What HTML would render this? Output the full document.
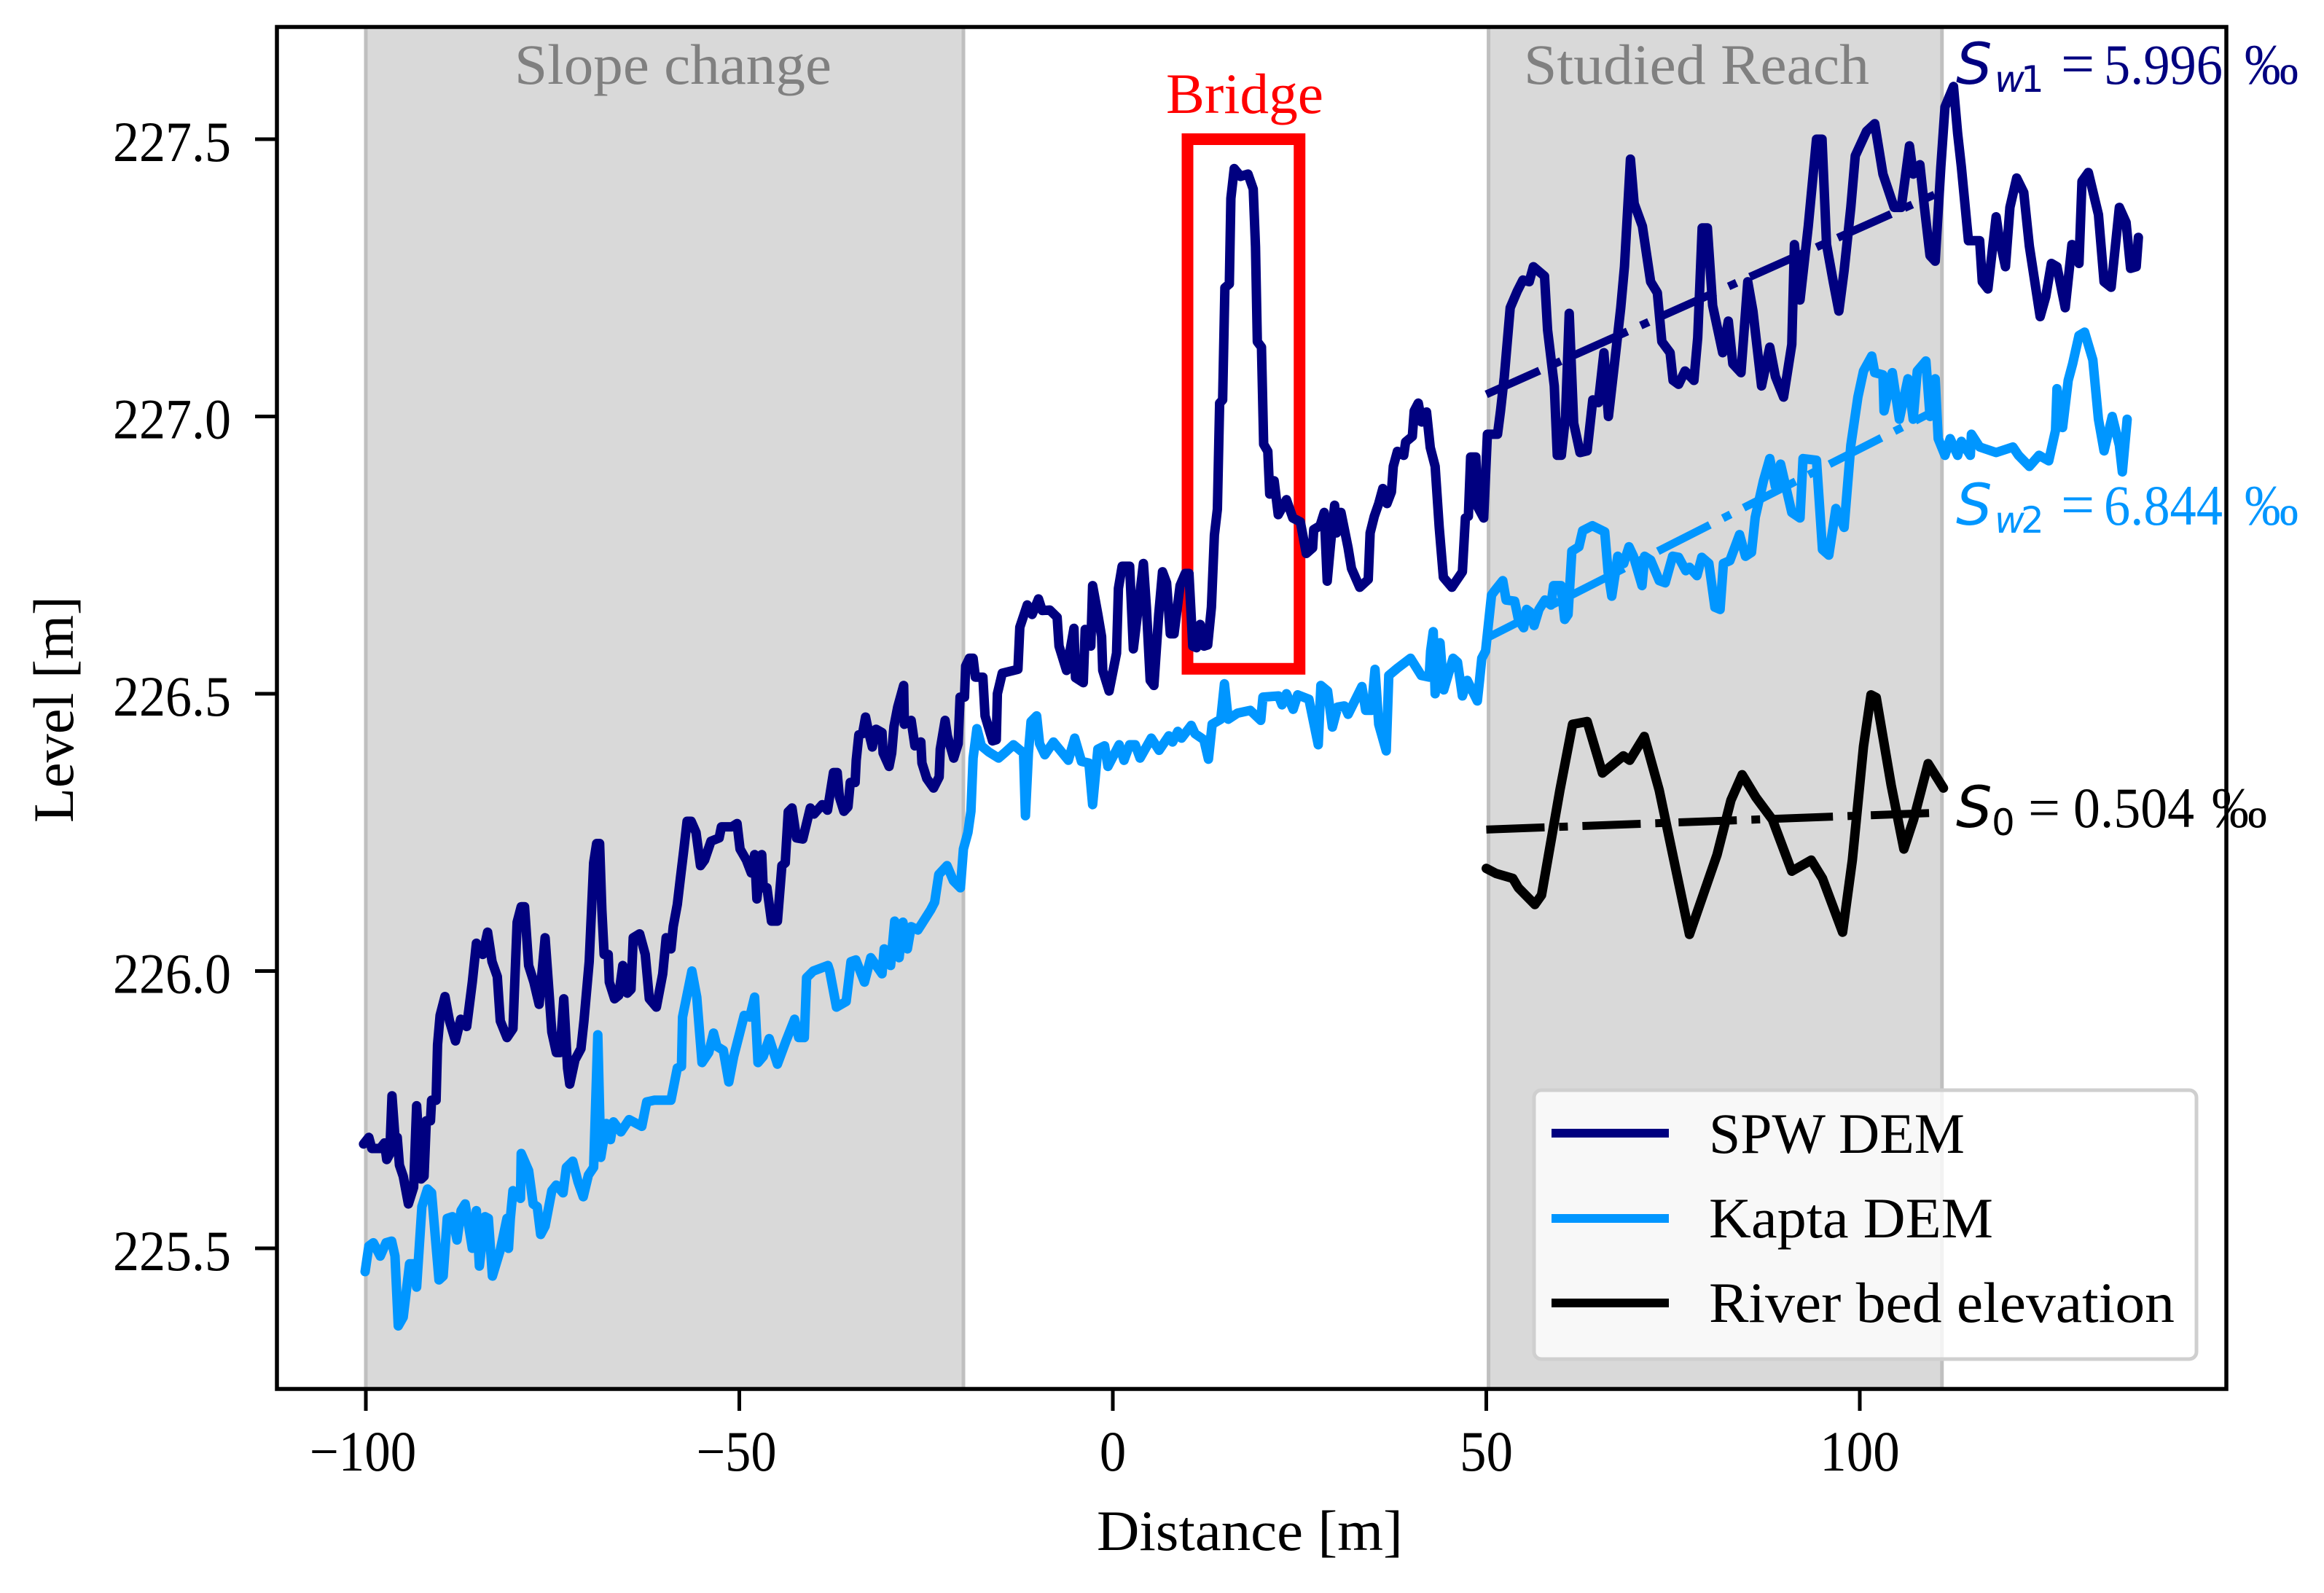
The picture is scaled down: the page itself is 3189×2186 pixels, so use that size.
<!DOCTYPE html>
<html lang="en">
<head>
<meta charset="utf-8">
<title>Longitudinal level profile</title>
<style>
html,body{margin:0;padding:0;background:#fff;width:3189px;height:2186px;overflow:hidden}
svg{display:block}
text{font-family:"Liberation Serif",serif}
.math{font-family:"DejaVu Sans",sans-serif;font-style:italic}
.mathr{font-family:"DejaVu Sans",sans-serif}
</style>
</head>
<body>
<svg id="chart" xmlns="http://www.w3.org/2000/svg" width="3189" height="2186" viewBox="0 0 3189 2186">
<rect x="0" y="0" width="3189" height="2186" fill="#fff"/>
<g id="spans"></g>
<g id="bridgeBox"></g>
<g id="series"></g>
<g>
<rect x="2105" y="1496" width="909" height="369" rx="10" ry="10" fill="#fff" fill-opacity="0.8" stroke="#cfcfcf" stroke-width="5"/>
<line x1="2129" x2="2290" y1="1555" y2="1555" stroke="#000080" stroke-width="12"/>
<line x1="2129" x2="2290" y1="1672" y2="1672" stroke="#0096ff" stroke-width="12"/>
<line x1="2129" x2="2290" y1="1788" y2="1788" stroke="#000" stroke-width="12"/>
<text x="2345" y="1582" font-size="78" textLength="351" lengthAdjust="spacingAndGlyphs">SPW DEM</text>
<text x="2345" y="1698" font-size="78" textLength="390" lengthAdjust="spacingAndGlyphs">Kapta DEM</text>
<text x="2345" y="1814" font-size="78" textLength="639" lengthAdjust="spacingAndGlyphs">River bed elevation</text>
</g>
<g id="ticks"></g>
<rect x="380" y="37" width="2675" height="1869" fill="none" stroke="#000" stroke-width="5.5"/>
<text x="1505" y="2127" font-size="78" textLength="420" lengthAdjust="spacingAndGlyphs">Distance [m]</text>
<text transform="translate(100,1129) rotate(-90)" x="0" y="0" font-size="78" textLength="311" lengthAdjust="spacingAndGlyphs">Level [m]</text>
<text x="706" y="115" font-size="78" fill="#808080" textLength="435" lengthAdjust="spacingAndGlyphs">Slope change</text>
<text x="2091" y="115" font-size="78" fill="#808080" textLength="474" lengthAdjust="spacingAndGlyphs">Studied Reach</text>
<text x="1600" y="155" font-size="78" fill="#ff0000" textLength="216" lengthAdjust="spacingAndGlyphs">Bridge</text>
<g fill="#000080">
<text class="math" x="2684" y="115" font-size="78">S</text>
<text class="math" x="2737" y="126" font-size="50">w</text>
<text class="mathr" x="2773" y="126" font-size="50">1</text>
<text x="2828" y="115" font-size="82">=</text>
<text x="2887" y="115" font-size="78" textLength="163" lengthAdjust="spacingAndGlyphs">5.996</text>
<text x="3080" y="115" font-size="78" textLength="74" lengthAdjust="spacingAndGlyphs">‰</text>
</g>
<g fill="#0096ff">
<text class="math" x="2684" y="720" font-size="78">S</text>
<text class="math" x="2737" y="731" font-size="50">w</text>
<text class="mathr" x="2773" y="731" font-size="50">2</text>
<text x="2828" y="720" font-size="82">=</text>
<text x="2887" y="720" font-size="78" textLength="163" lengthAdjust="spacingAndGlyphs">6.844</text>
<text x="3080" y="720" font-size="78" textLength="74" lengthAdjust="spacingAndGlyphs">‰</text>
</g>
<g fill="#000">
<text class="math" x="2684" y="1135" font-size="78">S</text>
<text class="mathr" x="2733" y="1146" font-size="50">0</text>
<text x="2783" y="1135" font-size="78">=</text>
<text x="2845" y="1135" font-size="78" textLength="166" lengthAdjust="spacingAndGlyphs">0.504</text>
<text x="3035" y="1135" font-size="78" textLength="76" lengthAdjust="spacingAndGlyphs">‰</text>
</g>
</svg>
<script>
const xTicks = [-100, -50, 0, 50, 100];
const yTicks = [225.5, 226.0, 226.5, 227.0, 227.5];
const slopeChangeRange = [-100, -20];
const studiedReachRange = [50.3, 111];
const bridgeDistanceRange = [10, 25];
const bridgeLevelRange = [226.545, 227.5];

const spwDistance = [-100.3,-99.6,-99.2,-98.07,-97.5,-97.2,-96.8,-96.5,-96.1,-95.8,-95.5,-95,-94.3,-93.6,-93.2,-92.6,-92.2,-91.9,-91.35,-91.2,-90.6,-90.4,-90.06,-89.4,-88.8,-88,-87.3,-86.5,-85.75,-85.2,-84.35,-83.7,-83.1,-82.4,-82,-81.1,-80.3,-79.75,-79.2,-78.75,-78.2,-77.5,-76.8,-76,-75.5,-75.1,-74.5,-74,-73.5,-73,-72.7,-72,-71.2,-70.8,-70.1,-69.5,-69.1,-68.7,-68.4,-68.1,-67.55,-67.4,-66.7,-66.15,-65.6,-65,-64.5,-64.2,-63.35,-62.6,-62.05,-61.1,-60.25,-59.8,-59.15,-58.85,-58.3,-57.9,-57.45,-57,-56.45,-55.8,-55.2,-54.65,-53.8,-52.7,-52.4,-51,-50.3,-49.9,-49.05,-48.4,-47.95,-47.65,-47,-46.8,-46.3,-45.7,-44.9,-44.3,-43.85,-43.45,-42.95,-42.35,-41.5,-40.5,-40,-38.9,-38.2,-37.4,-36.9,-36.6,-36,-35.45,-35.15,-34.5,-34.35,-34,-33.5,-33.1,-32.7,-32.2,-31.7,-30.9,-30.75,-29.95,-29.6,-29.3,-28.8,-28,-27.9,-27,-26.5,-25.7,-25.55,-24.9,-24,-23.25,-23.1,-22.45,-22.15,-21.3,-20.7,-20.45,-19.85,-19.7,-19.2,-18.7,-18.4,-17.4,-17.1,-16.1,-15.6,-15.45,-14.8,-12.7,-12.45,-11.45,-10.8,-9.95,-9.45,-8.45,-7.45,-7.2,-6.2,-5.2,-5,-3.95,-3.7,-2.95,-2.7,-2,-1.5,-1.35,-0.5,0.5,0.75,1.25,2.25,2.75,4.1,4.5,5,5.5,6.15,6.65,7.2,7.7,8.2,9,9.7,10.2,10.7,11.2,11.7,12.2,12.7,13.2,13.6,14,14.3,14.7,15,15.6,15.8,16.25,17.1,18.1,18.8,19.1,19.35,19.9,20.2,20.75,21,21.6,22.15,23.25,24.1,25.1,25.9,26.75,26.9,27.75,28.3,28.7,29.15,29.7,29.95,30.55,31.5,31.95,33.05,34.2,34.45,35,35.6,36.15,36.7,37.3,37.55,38.1,38.95,39.2,40.1,40.35,40.9,41.35,42,42.5,43.15,43.7,44.25,45.4,46.8,47.2,47.6,47.9,48.6,48.85,49.65,50.15,51.5,51.9,52.4,53.2,54.15,54.9,55.75,56.3,57.8,58.2,59.1,59.5,60.05,60.6,61.1,61.7,62.55,63.5,64.25,65,65.75,66.35,67.2,68,68.5,69.3,69.8,70.9,72,72.9,73.5,74.6,75,75.75,76.6,77.8,78.3,78.9,79.6,80.3,81.65,82.4,83,84.1,85,85.7,86.85,87.95,88.7,89.8,90.9,91.25,92,93.1,94.2,94.95,95.55,96.45,97.2,97.9,98.8,99.4,100.9,102,103.1,104.6,105.55,106.65,107.15,108.05,108.65,109.4,110.1,110.85,111.4,112.55,113.1,113.6,114.55,116.05,116.4,117.15,118.25,118.65,119.5,120.1,121,121.95,122.7,124.15,124.9,125.65,126.4,127.5,128.4,129.35,129.75,130.6,131.95,132.7,133.65,134.75,135.65,136.25,137,137.3];
const spwLevel = [225.688,225.7,225.68,225.68,225.69,225.66,225.67,225.775,225.7,225.7,225.65,225.63,225.58,225.61,225.757,225.625,225.63,225.73,225.73,225.767,225.767,225.867,225.92,225.954,225.91,225.874,225.913,225.9,225.98,226.05,226.03,226.07,226.017,225.99,225.91,225.88,225.896,226.088,226.116,226.116,226.01,225.98,225.94,226.06,225.967,225.89,225.853,225.853,225.95,225.825,225.796,225.84,225.86,225.91,226.017,226.195,226.23,226.23,226.11,226.03,226.03,225.98,225.95,225.956,226.01,225.96,225.967,226.06,226.067,226.03,225.95,225.935,225.995,226.06,226.04,226.08,226.12,226.166,226.216,226.27,226.27,226.25,226.19,226.2,226.234,226.24,226.26,226.26,226.266,226.22,226.2,226.177,226.21,226.13,226.21,226.15,226.15,226.09,226.09,226.19,226.195,226.287,226.294,226.24,226.238,226.294,226.283,226.3,226.29,226.358,226.358,226.314,226.288,226.296,226.34,226.34,226.38,226.426,226.428,226.458,226.432,226.404,226.436,226.43,226.393,226.369,226.393,226.441,226.476,226.515,226.445,226.452,226.406,226.413,226.375,226.347,226.33,226.35,226.4,226.452,226.424,226.384,226.41,226.494,226.494,226.55,226.564,226.564,226.53,226.53,226.46,226.415,226.417,226.5,226.537,226.544,226.62,226.66,226.643,226.671,226.65,226.651,226.638,226.586,226.542,226.618,226.529,226.52,226.616,226.586,226.695,226.643,226.603,226.542,226.505,226.573,226.69,226.73,226.73,226.581,226.735,226.656,226.524,226.515,226.643,226.72,226.7,226.608,226.608,226.695,226.717,226.717,226.586,226.583,226.625,226.586,226.588,226.656,226.786,226.833,227.024,227.03,227.232,227.239,227.393,227.447,227.433,227.437,227.41,227.306,227.135,227.125,226.95,226.937,226.86,226.884,226.823,226.85,226.817,226.81,226.753,226.763,226.796,226.803,226.827,226.703,226.77,226.84,226.79,226.827,226.763,226.726,226.692,226.706,226.79,226.82,226.843,226.87,226.843,226.864,226.91,226.937,226.93,226.954,226.964,227.01,227.024,226.99,227.008,226.944,226.91,226.8,226.71,226.692,226.72,226.817,226.82,226.927,226.927,226.837,226.817,226.968,226.968,227.01,227.07,227.196,227.226,227.246,227.243,227.27,227.253,227.156,227.055,226.93,226.93,227,227.186,226.988,226.935,226.938,227.03,227.025,227.115,227,227.1,227.196,227.27,227.464,227.384,227.343,227.243,227.223,227.135,227.115,227.065,227.058,227.082,227.065,227.142,227.34,227.34,227.2,227.115,227.172,227.095,227.079,227.243,227.19,227.055,227.125,227.072,227.035,227.13,227.31,227.21,227.343,227.5,227.5,227.31,227.243,227.19,227.263,227.377,227.47,227.514,227.528,227.437,227.377,227.377,227.488,227.437,227.454,227.377,227.29,227.28,227.45,227.558,227.595,227.51,227.45,227.317,227.317,227.243,227.23,227.36,227.323,227.27,227.377,227.43,227.404,227.307,227.18,227.216,227.276,227.27,227.196,227.31,227.276,227.424,227.44,227.364,227.243,227.233,227.377,227.35,227.267,227.27,227.323];

const kaptaDistance = [-100.1,-99.6,-99,-98.07,-97.3,-96.55,-96.1,-95.66,-95,-94.15,-93.6,-93.2,-92.5,-91.75,-91.2,-90.2,-89.65,-89.1,-88.4,-87.8,-87.25,-86.7,-85.75,-85.2,-84.8,-84.05,-83.6,-83.05,-82,-81.1,-80.9,-80.65,-80.3,-79.3,-79.2,-78.2,-77.6,-77.05,-76.6,-76,-75.1,-74.5,-73.6,-73.15,-72.3,-71.6,-70.9,-70.2,-69.5,-68.95,-68.55,-67.8,-67.25,-66.85,-65.85,-64.75,-63.05,-62.4,-61.4,-59.15,-58.3,-57.75,-57.6,-56.35,-55.7,-55,-54.1,-53.45,-53,-52.15,-51.4,-50.75,-49.35,-48.6,-47.95,-47.5,-46.8,-46,-44.9,-43.75,-42.6,-42.05,-41.3,-41,-40.1,-38.15,-37.9,-37,-35.7,-35.05,-34.4,-33.25,-32.4,-30.9,-30.6,-29.75,-29.2,-28.6,-28.1,-27.5,-27,-26.1,-24.4,-23.85,-23.3,-22.2,-21.35,-20.4,-20,-19.4,-19,-18.7,-18.2,-17.6,-16.6,-15.3,-14.35,-13.3,-11.95,-11.7,-11.3,-10.95,-10.2,-9.8,-9.1,-7.95,-5.95,-5.1,-4.2,-3.2,-2.7,-2,-1.1,-0.65,0.85,1.5,2.25,3,3.65,5.15,6.2,7.5,8,8.7,9.2,10.5,11,12.2,12.8,13.3,14.45,14.95,15.45,16.7,18.4,19.8,20.1,22.2,22.65,23.25,24.15,24.75,26.25,27.5,27.85,28.75,29.4,30.1,31,31.5,33.35,33.85,34.6,35.1,35.6,36.6,36.95,38.1,39.85,41.3,42.35,42.55,42.9,43.15,43.8,44.3,45.55,46.15,46.8,47.45,48.8,49.1,49.4,49.9,50.7,51.2,52.2,52.65,53.8,54.3,55,55.4,55.9,56.4,57.05,57.85,58.65,59,60,60.5,60.95,61.45,62.4,62.9,64.2,65.85,66.3,66.8,67.3,67.6,68.4,69.1,69.7,70.85,71.2,72,73.15,73.95,74.95,75.75,76.7,77.2,78.2,78.85,79.8,80.6,81.3,81.75,82.6,83.9,84.7,85.5,86,87.1,87.95,88.7,89.4,90.9,92,92.4,94.2,95,95.85,96.8,97.9,98.8,99.75,100.5,101.6,102,103.1,103.25,104.35,105.3,106.45,107.15,107.7,108.85,109.4,110.1,110.5,111.4,112.1,113.1,113.6,114.8,114.95,116.05,118.25,120.5,121.25,122.7,124,125.3,126.2,126.4,127.15,127.9,128.5,129.35,130.1,131.2,131.95,132.7,133.8,134.75,135.15,135.8];
const kaptaLevel = [225.458,225.504,225.51,225.486,225.51,225.513,225.486,225.36,225.376,225.472,225.472,225.43,225.575,225.607,225.6,225.443,225.45,225.554,225.557,225.515,225.568,225.58,225.5,225.568,225.468,225.557,225.554,225.45,225.497,225.554,225.5,225.554,225.604,225.59,225.671,225.64,225.58,225.575,225.525,225.54,225.604,225.614,225.6,225.646,225.657,225.62,225.593,225.632,225.646,225.885,225.664,225.725,225.696,225.728,225.71,225.732,225.72,225.764,225.767,225.767,225.825,225.828,225.917,226,225.953,225.835,225.853,225.888,225.864,225.857,225.8,225.846,225.92,225.917,225.953,225.835,225.846,225.878,225.832,225.874,225.913,225.88,225.88,225.988,226,226.01,226,225.935,225.945,226.017,226.02,225.98,226.024,225.995,226.04,226.01,226.09,226.024,226.088,226.04,226.08,226.074,226.11,226.124,226.174,226.19,226.163,226.15,226.22,226.25,226.288,226.384,226.437,226.406,226.395,226.384,226.395,226.408,226.393,226.28,226.393,226.45,226.46,226.41,226.39,226.413,226.38,226.42,226.378,226.375,226.3,226.4,226.406,226.369,226.408,226.38,226.408,226.408,226.384,226.42,226.398,226.424,226.413,226.432,226.42,226.443,226.428,226.417,226.382,226.445,226.454,226.518,226.454,226.465,226.47,226.452,226.494,226.496,226.48,226.5,226.472,226.498,226.49,226.408,226.515,226.505,226.44,226.476,226.478,226.463,226.513,226.47,226.47,226.544,226.445,226.397,226.533,226.546,226.564,226.533,226.53,226.577,226.612,226.5,226.592,226.507,226.564,226.557,226.496,226.524,226.487,226.525,226.564,226.577,226.678,226.687,226.704,226.669,226.667,226.634,226.619,226.652,226.647,226.623,226.652,226.669,226.66,226.695,226.695,226.634,226.643,226.757,226.765,226.794,226.803,226.792,226.72,226.676,226.72,226.748,226.735,226.765,226.748,226.695,226.748,226.741,226.704,226.7,226.748,226.746,226.722,226.728,226.713,226.746,226.735,226.656,226.652,226.735,226.74,226.787,226.748,226.755,226.818,226.884,226.924,226.874,226.914,226.827,226.817,226.924,226.921,226.76,226.75,226.834,226.8,226.948,227.035,227.082,227.109,227.079,227.075,227.01,227.079,226.995,227.068,226.995,227.082,227.1,227,227.068,226.96,226.93,226.96,226.93,226.955,226.93,226.968,226.945,226.935,226.945,226.93,226.91,226.93,226.92,226.975,227.05,226.98,227.065,227.095,227.146,227.152,227.102,226.995,226.938,227,226.948,226.9,226.995];

const riverDistance = [50,51.3,53.55,54.3,56.5,57.4,59.85,61.55,63.5,65.55,68.35,69.2,71.15,73.15,77.2,80.9,82.75,84.25,86.1,88.3,90.9,93.5,95,97.7,99,100.5,101.5,102.2,104.2,105.9,107.2,109.15,111.2];
const riverLevel = [226.185,226.176,226.167,226.15,226.12,226.137,226.326,226.445,226.45,226.357,226.388,226.38,226.423,226.326,226.066,226.21,226.308,226.354,226.313,226.273,226.18,226.2,226.167,226.07,226.2,226.405,226.498,226.493,226.335,226.22,226.273,226.374,226.33];

const trendSw1Distance = [50, 110];
const trendSw1Level = [227.04, 227.40];
const trendSw2Distance = [50, 110];
const trendSw2Level = [226.60, 227.01];
const trendS0Distance = [50, 109.6];
const trendS0Level = [226.255, 226.285];

const SVG_NS = 'http://www.w3.org/2000/svg';
function xScale(d) { return 1527 + 10.25 * d; }
function yScale(v) { return 191 + (227.5 - v) * 761; }
function make(parent, tag, attrs) {
  const el = document.createElementNS(SVG_NS, tag);
  for (const k in attrs) el.setAttribute(k, attrs[k]);
  parent.appendChild(el);
  return el;
}
function pathFrom(xs, ys) {
  return xs.map((d, i) => (i ? 'L' : 'M') + xScale(d).toFixed(1) + ' ' + yScale(ys[i]).toFixed(1)).join('');
}

const spansLayer = document.getElementById('spans');
const slopeSpan = make(spansLayer, 'rect', {
  x: xScale(slopeChangeRange[0]), y: 37, width: xScale(slopeChangeRange[1]) - xScale(slopeChangeRange[0]), height: 1869,
  fill: '#d9d9d9', stroke: '#bfbfbf', 'stroke-width': 5
});


const reachSpan = make(spansLayer, 'rect', {
  x: xScale(studiedReachRange[0]), y: 37, width: xScale(studiedReachRange[1]) - xScale(studiedReachRange[0]), height: 1869,
  fill: '#d9d9d9', stroke: '#bfbfbf', 'stroke-width': 5
});



const bridgeRect = make(document.getElementById('bridgeBox'), 'rect', {
  x: xScale(bridgeDistanceRange[0]), y: yScale(bridgeLevelRange[1]),
  width: xScale(bridgeDistanceRange[1]) - xScale(bridgeDistanceRange[0]),
  height: yScale(bridgeLevelRange[0]) - yScale(bridgeLevelRange[1]),
  fill: 'none', stroke: '#ff0000', 'stroke-width': 16
});



const seriesLayer = document.getElementById('series');
const lineStyle = { fill: 'none', 'stroke-width': 13, 'stroke-linejoin': 'round', 'stroke-linecap': 'round' };
const dashStyle = { fill: 'none', 'stroke-width': 11, 'stroke-dasharray': '80 20 12 20' };

const kaptaLine = make(seriesLayer, 'path', Object.assign({ d: pathFrom(kaptaDistance, kaptaLevel), stroke: '#0096ff' }, lineStyle));


const spwLine = make(seriesLayer, 'path', Object.assign({ d: pathFrom(spwDistance, spwLevel), stroke: '#000080' }, lineStyle));


const riverLine = make(seriesLayer, 'path', Object.assign({ d: pathFrom(riverDistance, riverLevel), stroke: '#000' }, lineStyle));


const trendSw1 = make(seriesLayer, 'path', Object.assign({ d: pathFrom(trendSw1Distance, trendSw1Level), stroke: '#000080' }, dashStyle));


const trendSw2 = make(seriesLayer, 'path', Object.assign({ d: pathFrom(trendSw2Distance, trendSw2Level), stroke: '#0096ff' }, dashStyle));


const trendS0 = make(seriesLayer, 'path', Object.assign({ d: pathFrom(trendS0Distance, trendS0Level), stroke: '#000' }, dashStyle));



const tickLayer = document.getElementById('ticks');
xTicks.forEach(function (t) {
  const px = xScale(t);
  const mark = make(tickLayer, 'line', { x1: px, x2: px, y1: 1906, y2: 1936, stroke: '#000', 'stroke-width': 5 });
  
  
  const digits = String(Math.abs(t));
  const label = make(tickLayer, 'text', {
    x: px - (t < 0 ? 4 : 0), y: 2018, 'font-size': 78, 'text-anchor': 'middle',
    textLength: digits.length * 36.5 + (t < 0 ? 37 : 0), lengthAdjust: 'spacingAndGlyphs'
  });
  label.textContent = (t < 0 ? '\u2212' : '') + digits;
  
  
});
yTicks.forEach(function (t) {
  const py = yScale(t);
  const mark = make(tickLayer, 'line', { x1: 350, x2: 380, y1: py, y2: py, stroke: '#000', 'stroke-width': 5 });
  
  
  const label = make(tickLayer, 'text', {
    x: 155, y: py + 30, 'font-size': 78, textLength: 162, lengthAdjust: 'spacingAndGlyphs'
  });
  label.textContent = t.toFixed(1);
  
  
});
</script>
</body>
</html>
